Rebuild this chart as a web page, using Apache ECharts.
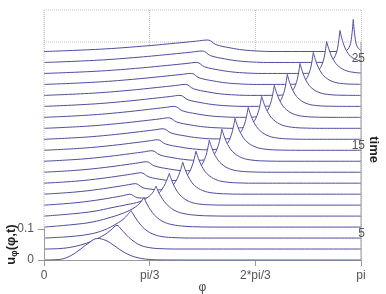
<!DOCTYPE html>
<html><head><meta charset="utf-8">
<script src="https://cdn.jsdelivr.net/npm/echarts@6/dist/echarts.min.js"></script>
<style>html,body{margin:0;padding:0;background:#fff}#c{width:386px;height:294px}</style>
</head><body><div id="c"></div>
<script>
const PI = Math.PI;
// tick labels
const xTickLabels = ['0', 'pi/3', '2*pi/3', 'pi'];
const uTickLabels = ['0', '0.1'];
const timeTickLabels = ['5', '15', '25'];

// u_phi(phi) for each successive time (phi in radians), bottom trace first
const line0 = [[0,0],[0.119,0.001],[0.198,0.0048],[0.277,0.0161],[0.357,0.0339],[0.436,0.0532],[0.530,0.0694],[0.614,0.0629],[0.694,0.0468],[0.773,0.029],[0.852,0.0155],[0.932,0.0071],[1.031,0.0023],[1.150,0.0003],[1.348,0],[PI,0]];
const line1 = [[0,0],[0.159,0.0016],[0.277,0.0065],[0.396,0.0161],[0.496,0.029],[0.595,0.0452],[0.664,0.0613],[0.723,0.0765],[0.763,0.0645],[0.813,0.0468],[0.872,0.029],[0.951,0.0129],[1.050,0.0042],[1.169,0.001],[1.348,0],[PI,0]];
const line2 = [[0,0],[0.258,0.0048],[0.456,0.0129],[0.595,0.0258],[0.714,0.0452],[0.793,0.0629],[0.862,0.0887],[0.902,0.0677],[0.951,0.0452],[1.011,0.0258],[1.080,0.0129],[1.169,0.0048],[1.298,0.0013],[1.496,0],[PI,0]];
const line3 = [[0,0],[0.287,0.0081],[0.476,0.0161],[0.634,0.029],[0.773,0.0435],[0.872,0.0581],[0.941,0.0742],[0.991,0.0955],[1.021,0.0742],[1.060,0.0532],[1.110,0.0339],[1.179,0.0177],[1.268,0.0081],[1.397,0.0026],[1.546,0.0006],[1.744,0],[PI,0]];
const line4 = [[0,0],[0.307,0.0081],[0.505,0.0161],[0.674,0.0274],[0.823,0.0371],[0.951,0.0468],[1.031,0.0613],[1.080,0.0774],[1.110,0.0968],[1.140,0.0742],[1.179,0.0532],[1.229,0.0339],[1.298,0.0177],[1.387,0.0081],[1.516,0.0026],[1.665,0.0006],[1.843,0],[PI,0]];
const line5 = [[0,0],[0.287,0.0068],[0.509,0.0155],[0.679,0.0245],[0.789,0.031],[0.848,0.0352],[0.928,0.0239],[1.001,0.0226],[1.066,0.0252],[1.133,0.0374],[1.172,0.0523],[1.202,0.0694],[1.222,0.0848],[1.242,0.1023],[1.271,0.0755],[1.311,0.049],[1.361,0.0284],[1.440,0.0116],[1.539,0.0035],[1.688,0.0006],[1.843,0],[PI,0]];
const line6 = [[0,0],[0.307,0.0068],[0.542,0.0155],[0.723,0.0245],[0.840,0.0306],[0.904,0.0339],[0.983,0.0206],[1.060,0.0161],[1.137,0.0139],[1.216,0.0171],[1.266,0.0258],[1.305,0.0413],[1.335,0.061],[1.355,0.0794],[1.375,0.1032],[1.404,0.0752],[1.444,0.0484],[1.493,0.0277],[1.573,0.0116],[1.672,0.0039],[1.820,0.0008],[1.992,0],[PI,0]];
const line7 = [[0,0],[0.326,0.0068],[0.575,0.0156],[0.767,0.0244],[0.892,0.0305],[0.959,0.0339],[1.038,0.0204],[1.177,0.0112],[1.268,0.0084],[1.347,0.011],[1.397,0.0192],[1.437,0.0339],[1.466,0.0544],[1.486,0.0753],[1.506,0.1032],[1.536,0.075],[1.575,0.0483],[1.625,0.0278],[1.704,0.0115],[1.803,0.0038],[1.952,0.0007],[2.1,0],[PI,0]];
const line8 = [[0,0],[0.345,0.0068],[0.609,0.0156],[0.812,0.0244],[0.944,0.0305],[1.015,0.0339],[1.094,0.0203],[1.233,0.0108],[1.362,0.0051],[1.400,0.0047],[1.479,0.0063],[1.529,0.0128],[1.569,0.0265],[1.598,0.0472],[1.618,0.0699],[1.638,0.1032],[1.668,0.0745],[1.707,0.048],[1.757,0.0275],[1.836,0.0113],[1.935,0.0037],[2.084,0.0007],[2.25,0],[PI,0]];
const line9 = [[0,0],[0.364,0.0068],[0.642,0.0156],[0.856,0.0244],[0.995,0.0305],[1.070,0.0339],[1.149,0.0203],[1.288,0.0108],[1.417,0.0047],[1.525,0.0031],[1.604,0.0053],[1.654,0.0123],[1.694,0.0261],[1.723,0.0469],[1.743,0.0697],[1.763,0.1032],[1.793,0.074],[1.832,0.0475],[1.882,0.0272],[1.961,0.0112],[2.060,0.0037],[2.209,0.0007],[2.4,0],[PI,0]];
const line10 = [[0,0],[0.383,0.0068],[0.676,0.0156],[0.901,0.0244],[1.047,0.0305],[1.126,0.0339],[1.205,0.0203],[1.344,0.0108],[1.473,0.0047],[1.622,0.0014],[1.655,0.0018],[1.734,0.0047],[1.784,0.0118],[1.824,0.0255],[1.853,0.0464],[1.873,0.0692],[1.893,0.1032],[1.923,0.074],[1.962,0.0475],[2.012,0.0272],[2.091,0.0112],[2.190,0.0037],[2.339,0.0007],[2.55,0],[PI,0]];
const line11 = [[0,0],[0.402,0.0068],[0.709,0.0156],[0.945,0.0244],[1.098,0.0305],[1.181,0.0339],[1.260,0.0203],[1.399,0.0108],[1.528,0.0047],[1.677,0.0014],[1.786,0.0014],[1.865,0.0042],[1.915,0.0115],[1.955,0.0255],[1.984,0.0464],[2.004,0.0692],[2.024,0.1032],[2.054,0.074],[2.093,0.0475],[2.143,0.0272],[2.222,0.0112],[2.321,0.0037],[2.470,0.0007],[2.65,0],[PI,0]];
const line12 = [[0,0],[0.421,0.0068],[0.742,0.0156],[0.990,0.0244],[1.150,0.0305],[1.237,0.0339],[1.316,0.0203],[1.455,0.0108],[1.584,0.0047],[1.733,0.0014],[1.881,0],[1.919,0.0008],[1.998,0.0042],[2.048,0.0115],[2.088,0.0255],[2.117,0.0464],[2.137,0.0692],[2.157,0.1032],[2.187,0.074],[2.226,0.0475],[2.276,0.0272],[2.355,0.0112],[2.454,0.0037],[2.603,0.0007],[2.78,0],[PI,0]];
const line13 = [[0,0],[0.439,0.0071],[0.775,0.0163],[1.034,0.0256],[1.202,0.032],[1.292,0.0355],[1.371,0.0213],[1.510,0.0114],[1.639,0.005],[1.788,0.0014],[1.936,0],[2.044,0.0005],[2.123,0.0029],[2.173,0.0089],[2.213,0.0218],[2.242,0.0424],[2.262,0.0662],[2.282,0.1032],[2.312,0.0728],[2.351,0.0453],[2.401,0.0251],[2.480,0.0098],[2.579,0.003],[2.728,0.0005],[2.9,0],[PI,0]];
const line14 = [[0,0],[0.458,0.0071],[0.809,0.0163],[1.078,0.0256],[1.254,0.032],[1.348,0.0355],[1.427,0.0213],[1.566,0.0114],[1.695,0.005],[1.844,0.0014],[1.992,0],[2.173,0.0003],[2.252,0.0019],[2.302,0.0066],[2.342,0.0179],[2.371,0.038],[2.391,0.0626],[2.411,0.1032],[2.441,0.071],[2.480,0.043],[2.530,0.023],[2.609,0.0085],[2.708,0.0024],[2.857,0.0004],[3.0,0],[PI,0]];
const line15 = [[0,0],[0.477,0.0071],[0.842,0.0163],[1.122,0.0256],[1.305,0.032],[1.403,0.0355],[1.482,0.0213],[1.621,0.0114],[1.750,0.005],[1.899,0.0014],[2.047,0],[2.299,0.0003],[2.378,0.0019],[2.428,0.0066],[2.468,0.0179],[2.497,0.038],[2.517,0.0626],[2.537,0.1032],[2.567,0.071],[2.606,0.043],[2.656,0.023],[2.735,0.0085],[2.834,0.0024],[2.983,0.0004],[PI,0]];
const line16 = [[0,0],[0.496,0.0071],[0.875,0.0163],[1.167,0.0256],[1.357,0.032],[1.459,0.0355],[1.538,0.0213],[1.677,0.0114],[1.806,0.005],[1.955,0.0014],[2.103,0],[2.431,0.0003],[2.510,0.0019],[2.560,0.0066],[2.600,0.0179],[2.629,0.038],[2.649,0.0626],[2.669,0.1032],[2.699,0.071],[2.738,0.043],[2.788,0.023],[2.867,0.0085],[2.966,0.0024],[3.115,0.0004],[PI,0.0003]];
const line17 = [[0,0],[0.515,0.0071],[0.908,0.0163],[1.211,0.0256],[1.408,0.032],[1.514,0.0355],[1.593,0.0213],[1.732,0.0114],[1.861,0.005],[2.010,0.0014],[2.158,0],[2.563,0.0001],[2.642,0.0012],[2.692,0.0049],[2.732,0.0148],[2.761,0.034],[2.781,0.0592],[2.801,0.1032],[2.831,0.071],[2.870,0.043],[2.920,0.023],[2.999,0.0085],[3.098,0.0024],[PI,0.0015]];
const line18 = [[0,0],[0.534,0.0074],[0.942,0.0171],[1.256,0.0267],[1.460,0.0334],[1.570,0.0371],[1.649,0.0223],[1.788,0.0119],[1.917,0.0052],[2.066,0.0015],[2.214,0],[2.774,0.0005],[2.824,0.0026],[2.864,0.01],[2.893,0.0272],[2.913,0.053],[2.933,0.1032],[2.963,0.0651],[3.002,0.0352],[3.052,0.0163],[PI,0.0041]];
const line19 = [[0,0],[0.553,0.0074],[0.975,0.0171],[1.300,0.0267],[1.511,0.0334],[1.625,0.0371],[1.704,0.0223],[1.843,0.0119],[1.972,0.0052],[2.121,0.0015],[2.269,0],[2.950,0],[2.996,0.0031],[3.025,0.014],[3.045,0.038],[3.065,0.1032],[3.085,0.0398],[3.105,0.0154],[PI,0.0026]];

const traces = [line0,line1,line2,line3,line4,line5,line6,line7,line8,line9,line10,line11,line12,line13,line14,line15,line16,line17,line18,line19];

// layout constants (waterfall offset and the 3-D box)
const traceStep = 0.0354;
const uMax = 0.8065;
const wallLow = 0.7032;
const uTop = 0.1;
const toDeg = r => r * 180 / PI;
const FONT = 'Liberation Sans, Arial, Helvetica, sans-serif';
const lineColor = '#4d4d9e';

const series = [];
for (let i = traces.length - 1; i >= 0; i--) {
  const pts = traces[i];
  const off = i * traceStep;
  let data = pts.map(p => [toDeg(p[0]), p[1] + off]);
  if (i >= 2) {
    let k = 0;
    pts.forEach((p, j) => { if (p[1] > pts[k][1]) k = j; });
    data = data.slice(0, k + 1).concat([[data[k][0], '-']], data.slice(k));
  }
  series.push({
    type: 'line', xAxisIndex: 0, yAxisIndex: 0, data: data,
    smooth: 0.4, symbol: 'none', showSymbol: false, silent: true,
    lineStyle: { color: lineColor, width: 1 },
    areaStyle: { color: '#ffffff', opacity: 1, origin: 'start' },
    z: 40 - i
  });
}
const dotted = { color: '#c2c2c2', type: 'dotted', width: 1 };
series.push({ type: 'line', xAxisIndex: 0, yAxisIndex: 0, data: [[0, wallLow], [180, wallLow]], symbol: 'none', silent: true, clip: false, lineStyle: dotted, z: 1 });
series.push({ type: 'line', xAxisIndex: 0, yAxisIndex: 0, data: [[0, uMax], [180, uMax]], symbol: 'none', silent: true, clip: false, lineStyle: dotted, z: 1 });
series.push({ type: 'line', xAxisIndex: 0, yAxisIndex: 0, data: [[0, uTop], [0, uMax]], symbol: 'none', silent: true, clip: false, lineStyle: dotted, z: 60 });
series.push({ type: 'line', xAxisIndex: 0, yAxisIndex: 0, data: [[180, 0], [180, wallLow]], symbol: 'none', silent: true, clip: false, lineStyle: { color: '#9a9a9a', width: 1 }, z: 60 });

const chart = echarts.init(document.getElementById('c'), null, { renderer: 'canvas' });
chart.setOption({
  backgroundColor: '#ffffff',
  animation: false,
  textStyle: { fontFamily: FONT },
  grid: [
    { left: 44, right: 25, top: 10, bottom: 34, outerBoundsMode: 'none', containLabel: false },
    { left: 44, right: 25, top: 229, bottom: 34, outerBoundsMode: 'none', containLabel: false },
    { left: 44, right: 25, top: 59, bottom: 60.7, outerBoundsMode: 'none', containLabel: false }
  ],
  xAxis: [
    { gridIndex: 0, type: 'value', min: 0, max: 180, interval: 60,
      axisLine: { show: true, lineStyle: { color: '#9a9a9a' } },
      axisTick: { show: true, length: 6, lineStyle: { color: '#9a9a9a' } },
      axisLabel: { formatter: v => xTickLabels[Math.round(v / 60)], color: '#555', fontSize: 12, margin: 10, fontFamily: FONT },
      splitLine: { show: true, lineStyle: dotted },
      name: 'φ', nameLocation: 'middle', nameGap: 22, nameMoveOverlap: false,
      nameTextStyle: { color: '#444', fontSize: 12, fontFamily: FONT } },
    { gridIndex: 1, type: 'value', min: 0, max: 180, show: false },
    { gridIndex: 2, type: 'value', min: 0, max: 180, show: false }
  ],
  yAxis: [
    { gridIndex: 0, type: 'value', min: 0, max: uMax, show: false },
    { gridIndex: 1, type: 'value', min: 0, max: 0.1, interval: 0.1, z: 70,
      axisLine: { show: true, lineStyle: { color: '#9a9a9a' } },
      axisTick: { show: true, length: 6, lineStyle: { color: '#9a9a9a' } },
      axisLabel: { formatter: v => uTickLabels[Math.round(v / 0.1)], color: '#555', fontSize: 12, margin: 10, fontFamily: FONT },
      splitLine: { show: false },
      name: '{a|u}{s|φ}{a|(φ,t)}', nameLocation: 'middle', nameRotate: 90, nameGap: 25, nameMoveOverlap: false,
      nameTextStyle: { fontFamily: FONT, fontSize: 13, fontWeight: 'bold', color: '#222',
        rich: { a: { fontFamily: FONT, fontSize: 13, fontWeight: 'bold', color: '#222', lineHeight: 15 },
                s: { fontFamily: FONT, fontSize: 9, fontWeight: 'bold', color: '#222', verticalAlign: 'bottom', lineHeight: 10 } } } },
    { gridIndex: 2, type: 'value', position: 'right', min: 5, max: 25, interval: 10, z: 70,
      axisLine: { show: false }, axisTick: { show: false }, splitLine: { show: false },
      axisLabel: { formatter: v => timeTickLabels[Math.round((v - 5) / 10)], color: '#555', fontSize: 12, align: 'right', margin: 4, fontFamily: FONT },
      name: 'time', nameLocation: 'middle', nameRotate: -90, nameGap: 6, nameMoveOverlap: false,
      nameTextStyle: { fontFamily: FONT, fontSize: 13, fontWeight: 'bold', color: '#222', padding: [0, 0, 0, 7] } }
  ],
  series: series
});
</script>
</body></html>
